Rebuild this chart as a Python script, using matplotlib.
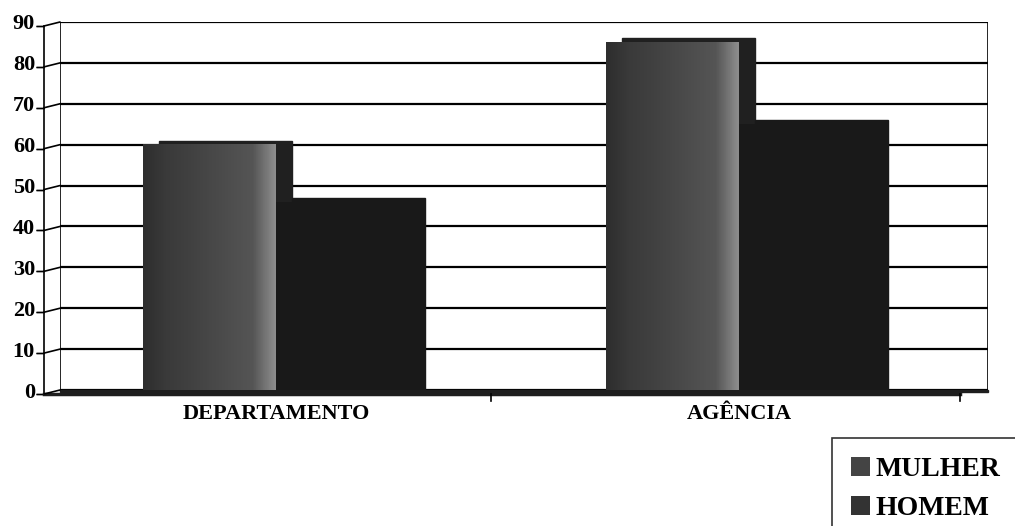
import numpy as np
import matplotlib
matplotlib.use("Agg")
import matplotlib.pyplot as plt
import matplotlib.transforms as mtransforms
from matplotlib.colors import LinearSegmentedColormap
from matplotlib.patches import Rectangle
from matplotlib.lines import Line2D

categories = ["DEPARTAMENTO", "AGÊNCIA"]
series_names = ["MULHER", "HOMEM"]
mulher = [60, 85]
homem = [46, 65]
yticks = list(range(0, 100, 10))

plt.rcParams["font.family"] = ["Liberation Serif", "DejaVu Serif"]
plt.rcParams["font.weight"] = "bold"

fig = plt.figure(figsize=(10.15, 5.26), dpi=100)
ax = fig.add_axes([60 / 1015, 1 - 390 / 526, 928 / 1015, 368 / 526])

x = np.arange(len(categories))
width = 0.287

# depth offset for the fake 3D look (pixels -> inches)
depth = mtransforms.ScaledTranslation(16 / 100, 4 / 100, fig.dpi_scale_trans)
front = mtransforms.ScaledTranslation(-16 / 100, -4 / 100, fig.dpi_scale_trans)
tr_y = mtransforms.blended_transform_factory(ax.transAxes, ax.transData)

# back wall: gridlines and side edges
for v in yticks:
    ax.add_line(Line2D([0, 1], [v, v], transform=tr_y, color="black", lw=1.6,
                       zorder=1))
for xe in [0, 1]:
    ax.add_line(Line2D([xe, xe], [0, 90], transform=tr_y, color="black",
                       lw=1.2, zorder=1))

# front axis with ticks joined to the back wall
ax.add_line(Line2D([0, 0], [0, 90], transform=tr_y + front, color="black",
                   lw=1.2, clip_on=False))
for v in yticks:
    ax.annotate("", xy=(0, v), xycoords=tr_y, xytext=(0, v),
                textcoords=tr_y + front,
                arrowprops=dict(arrowstyle="-", color="black", lw=1.2,
                                shrinkA=0, shrinkB=0))
    ax.add_line(Line2D([0, 0], [v, v], transform=tr_y + front, color="black",
                       lw=1.2, marker=0, markersize=6, clip_on=False))

# floor
ax.add_patch(Rectangle((0, -0.6), 1, 0.6, transform=tr_y, color="#1e1e1e",
                       zorder=2, clip_on=False))
ax.add_line(Line2D([0, 0.987], [0, 0], transform=tr_y + front, color="#1e1e1e",
                   lw=2.5, clip_on=False, zorder=2))
ax.add_line(Line2D([0.987, 0.987], [0, -1.8], transform=tr_y + front,
                   color="black", lw=1.2, clip_on=False))
ax.add_line(Line2D([0.5, 0.5], [0, -1.8], transform=ax.transData + front,
                   color="black", lw=1.2, clip_on=False))

# bars: a shifted dark copy gives the top and side faces
b_m = ax.bar(x - width / 2, mulher, width, color="#3c3c3c", zorder=5,
             label=series_names[0])
b_h = ax.bar(x + width / 2, homem, width, color="#191919", zorder=5,
             label=series_names[1])
for bars, z, c in [(b_m, 3, "#202020"), (b_h, 4, "#191919")]:
    for b in bars:
        ax.add_patch(Rectangle((b.get_x(), -1), b.get_width(),
                               b.get_height() + 1, color=c, zorder=z,
                               transform=ax.transData + depth))

grad = LinearSegmentedColormap.from_list(
    "g", ["#2e2e2e", "#3a3a3a", "#404040", "#474747", "#4e4e4e", "#555555",
          "#8c8c8c"])
for b in b_m:
    img = np.linspace(0, 1, 60).reshape(1, -1)
    ax.imshow(img, cmap=grad, aspect="auto", zorder=6,
              extent=(b.get_x(), b.get_x() + b.get_width(), 0, b.get_height()))

ax.set_xlim(-0.4665, 1.538)
ax.set_ylim(0, 90)
for s in ax.spines.values():
    s.set_visible(False)

ax.set_yticks(yticks)
ax.set_yticklabels([str(v) for v in yticks], fontsize=16, fontweight="bold")
ax.tick_params(axis="y", length=0, pad=18)
ax.set_xticks(x)
ax.set_xticklabels(categories, fontsize=16, fontweight="bold")
ax.tick_params(axis="x", length=0, pad=10)

leg = fig.legend(handles=[b_m, b_h], labels=series_names, loc="upper left",
                 bbox_to_anchor=(832 / 1015, 1 - 438 / 526), borderaxespad=0,
                 frameon=True, fancybox=False, edgecolor="black",
                 prop=dict(family="Liberation Serif", weight="bold", size=20),
                 handlelength=0.65, handleheight=0.65, handletextpad=0.2,
                 labelspacing=0.5, borderpad=0.7)
leg.get_frame().set_linewidth(1.2)
leg.legend_handles[0].set_facecolor("#444444")
leg.legend_handles[1].set_facecolor("#333333")

fig.savefig("out.png", dpi=100)
